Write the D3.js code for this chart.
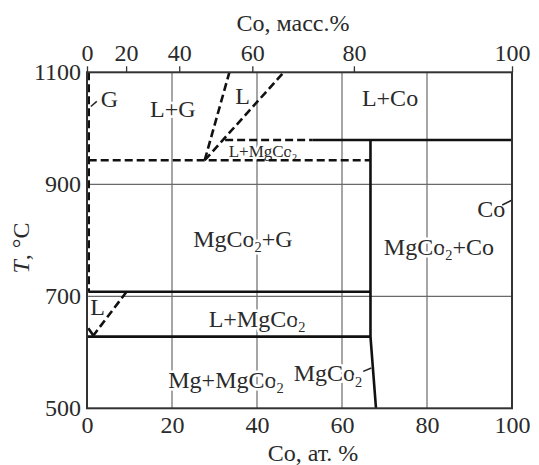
<!DOCTYPE html>
<html>
<head>
<meta charset="utf-8">
<script src="https://cdn.jsdelivr.net/npm/d3@7"></script>
<style>
  body { margin: 0; background: #fff; }
</style>
</head>
<body>
<div id="chart"></div>
<script>
// Axes
const atTicks = [0, 20, 40, 60, 80, 100];
const massTicks = [0, 20, 40, 60, 80, 100];
const massTickAt = [0, 9.2, 21.7, 38.9, 62.8, 100];   // position of the mass% ticks on the at.% scale
const tTicks = [500, 700, 900, 1100];
const gridAt = [20, 40, 60, 80];
const gridT = [700, 900];

// Phase boundaries, [at.% Co, T °C]
const solidLines = [
  [[0.3, 708], [66.7, 708]],
  [[0, 628], [66.7, 628]],
  [[66.7, 979], [66.7, 628], [68, 500]],
  [[53, 979], [100, 979]],
  [[0.3, 643], [1.5, 630]]
];
const dashedLines = [
  [[0.4, 1100], [0.4, 708]],
  [[0.4, 943], [66.7, 943]],
  [[27.7, 943], [33.5, 1100]],
  [[27.7, 943], [46.3, 1100]],
  [[32.5, 979], [53, 979]],
  [[9.3, 708], [1.5, 630]]
];
const pointers = [
  [[0.9, 1039], [2.3, 1048]],
  [[97.7, 863], [99.8, 871]],
  [[65, 566], [66.9, 572]]
];

// Region labels: text, at.%, T (baseline)
const labelText = ["G", "L+G", "L", "L+Co", "L+MgCo₂", "MgCo₂+G", "MgCo₂+Co", "Co", "L+MgCo₂", "L", "Mg+MgCo₂", "MgCo₂"];
const labelAt   = [5.3, 20.2, 36.6, 71.3, 41.4, 36.7, 82.8, 95.1, 40, 2.5, 32.7, 56.7];
const labelT    = [1038, 1020, 1044, 1040, 949, 788, 774, 841, 645, 667, 536, 548];
const labelBig  = [true, true, true, true, false, true, true, true, true, true, true, true];

const FONT = "'Liberation Serif'";
const INK = "#2a2a2a";
const FS = 24;

const W = 539, H = 465;
const margin = {top: 72.3, right: 27, bottom: 56.7, left: 87};
const width = W - margin.left - margin.right,
      height = H - margin.top - margin.bottom;

const svg = d3.select("#chart").append("svg")
    .attr("width", W).attr("height", H);
const g = svg.append("g")
    .attr("transform", `translate(${margin.left},${margin.top})`);

const x = d3.scaleLinear().domain([0, 100]).range([0, width]);
const y = d3.scaleLinear().domain([500, 1100]).range([height, 0]);

// grille
g.selectAll(".gx").data(gridAt).join("line")
    .attr("x1", d => x(d)).attr("x2", d => x(d))
    .attr("y1", 0).attr("y2", height)
    .attr("stroke", "#6a6a6a").attr("stroke-width", 1.2);
g.selectAll(".gy").data(gridT).join("line")
    .attr("x1", 0).attr("x2", width)
    .attr("y1", d => y(d)).attr("y2", d => y(d))
    .attr("stroke", "#6a6a6a").attr("stroke-width", 1.2);

const line = d3.line().x(d => x(d[0])).y(d => y(d[1]));

// labels first (white halo hides the grid under them)
const small = 17;
labelText.forEach((t, i) => {
  const fs = labelBig[i] ? FS : small;
  const txt = g.append("text")
      .attr("x", x(labelAt[i])).attr("y", y(labelT[i]))
      .attr("text-anchor", "middle")
      .attr("font-family", FONT)
      .attr("font-size", fs)
      .attr("fill", INK)
      .attr("stroke", "#fff").attr("stroke-width", 5)
      .attr("paint-order", "stroke");
  let shift = 0;
  t.split(/(₂)/).forEach(part => {
    if (!part) return;
    if (part === "₂") {
      txt.append("tspan").attr("dy", fs * 0.22).attr("font-size", fs * 0.6).text("2");
      shift = -fs * 0.22;
    } else {
      const ts = txt.append("tspan").text(part);
      if (shift) { ts.attr("dy", shift); shift = 0; }
    }
  });
});

// phase lines
g.selectAll(".solid").data(solidLines).join("path")
    .attr("d", line).attr("fill", "none")
    .attr("stroke", "#111").attr("stroke-width", 2.6);
g.selectAll(".dashed").data(dashedLines).join("path")
    .attr("d", line).attr("fill", "none")
    .attr("stroke", "#111").attr("stroke-width", 2.6)
    .attr("stroke-dasharray", "8,4");
g.selectAll(".ptr").data(pointers).join("path")
    .attr("d", line).attr("fill", "none")
    .attr("stroke", "#222").attr("stroke-width", 1.5);

// cadre
g.append("rect").attr("width", width).attr("height", height)
    .attr("fill", "none").attr("stroke", "#333").attr("stroke-width", 2);

function styleAxis(ax) {
  ax.attr("font-family", FONT).attr("font-size", FS);
  ax.select(".domain").remove();
  ax.selectAll("text").attr("fill", INK);
}

// axe bas (at.%)
const xAxis = g.append("g").attr("transform", `translate(0,${height})`)
    .call(d3.axisBottom(x).tickValues(atTicks).tickSize(0).tickPadding(8).tickFormat(d3.format("d")));
styleAxis(xAxis);

// axe haut (mass.%)
const xTop = g.append("g")
    .call(d3.axisTop(x).tickValues(massTickAt).tickSize(6).tickPadding(5)
      .tickFormat((d, i) => massTicks[i]));
styleAxis(xTop);
xTop.selectAll("line").attr("stroke", "#333").attr("stroke-width", 1.3);

// axe gauche
const yAxis = g.append("g")
    .call(d3.axisLeft(y).tickValues(tTicks).tickSize(0).tickPadding(6).tickFormat(d3.format("d")));
styleAxis(yAxis);

// titres
svg.append("text").attr("x", 293).attr("y", 31)
    .attr("text-anchor", "middle").attr("font-family", FONT).attr("font-size", FS).attr("fill", INK)
    .text("Co, масс.%");
svg.append("text").attr("x", 313).attr("y", 461)
    .attr("text-anchor", "middle").attr("font-family", FONT).attr("font-size", FS).attr("fill", INK)
    .text("Co, ат. %");
const yt = svg.append("text")
    .attr("transform", "translate(29,248) rotate(-90)")
    .attr("text-anchor", "middle").attr("font-family", FONT).attr("font-size", FS).attr("fill", INK);
yt.append("tspan").attr("font-style", "italic").text("T");
yt.append("tspan").text(", °C");
</script>
</body>
</html>
